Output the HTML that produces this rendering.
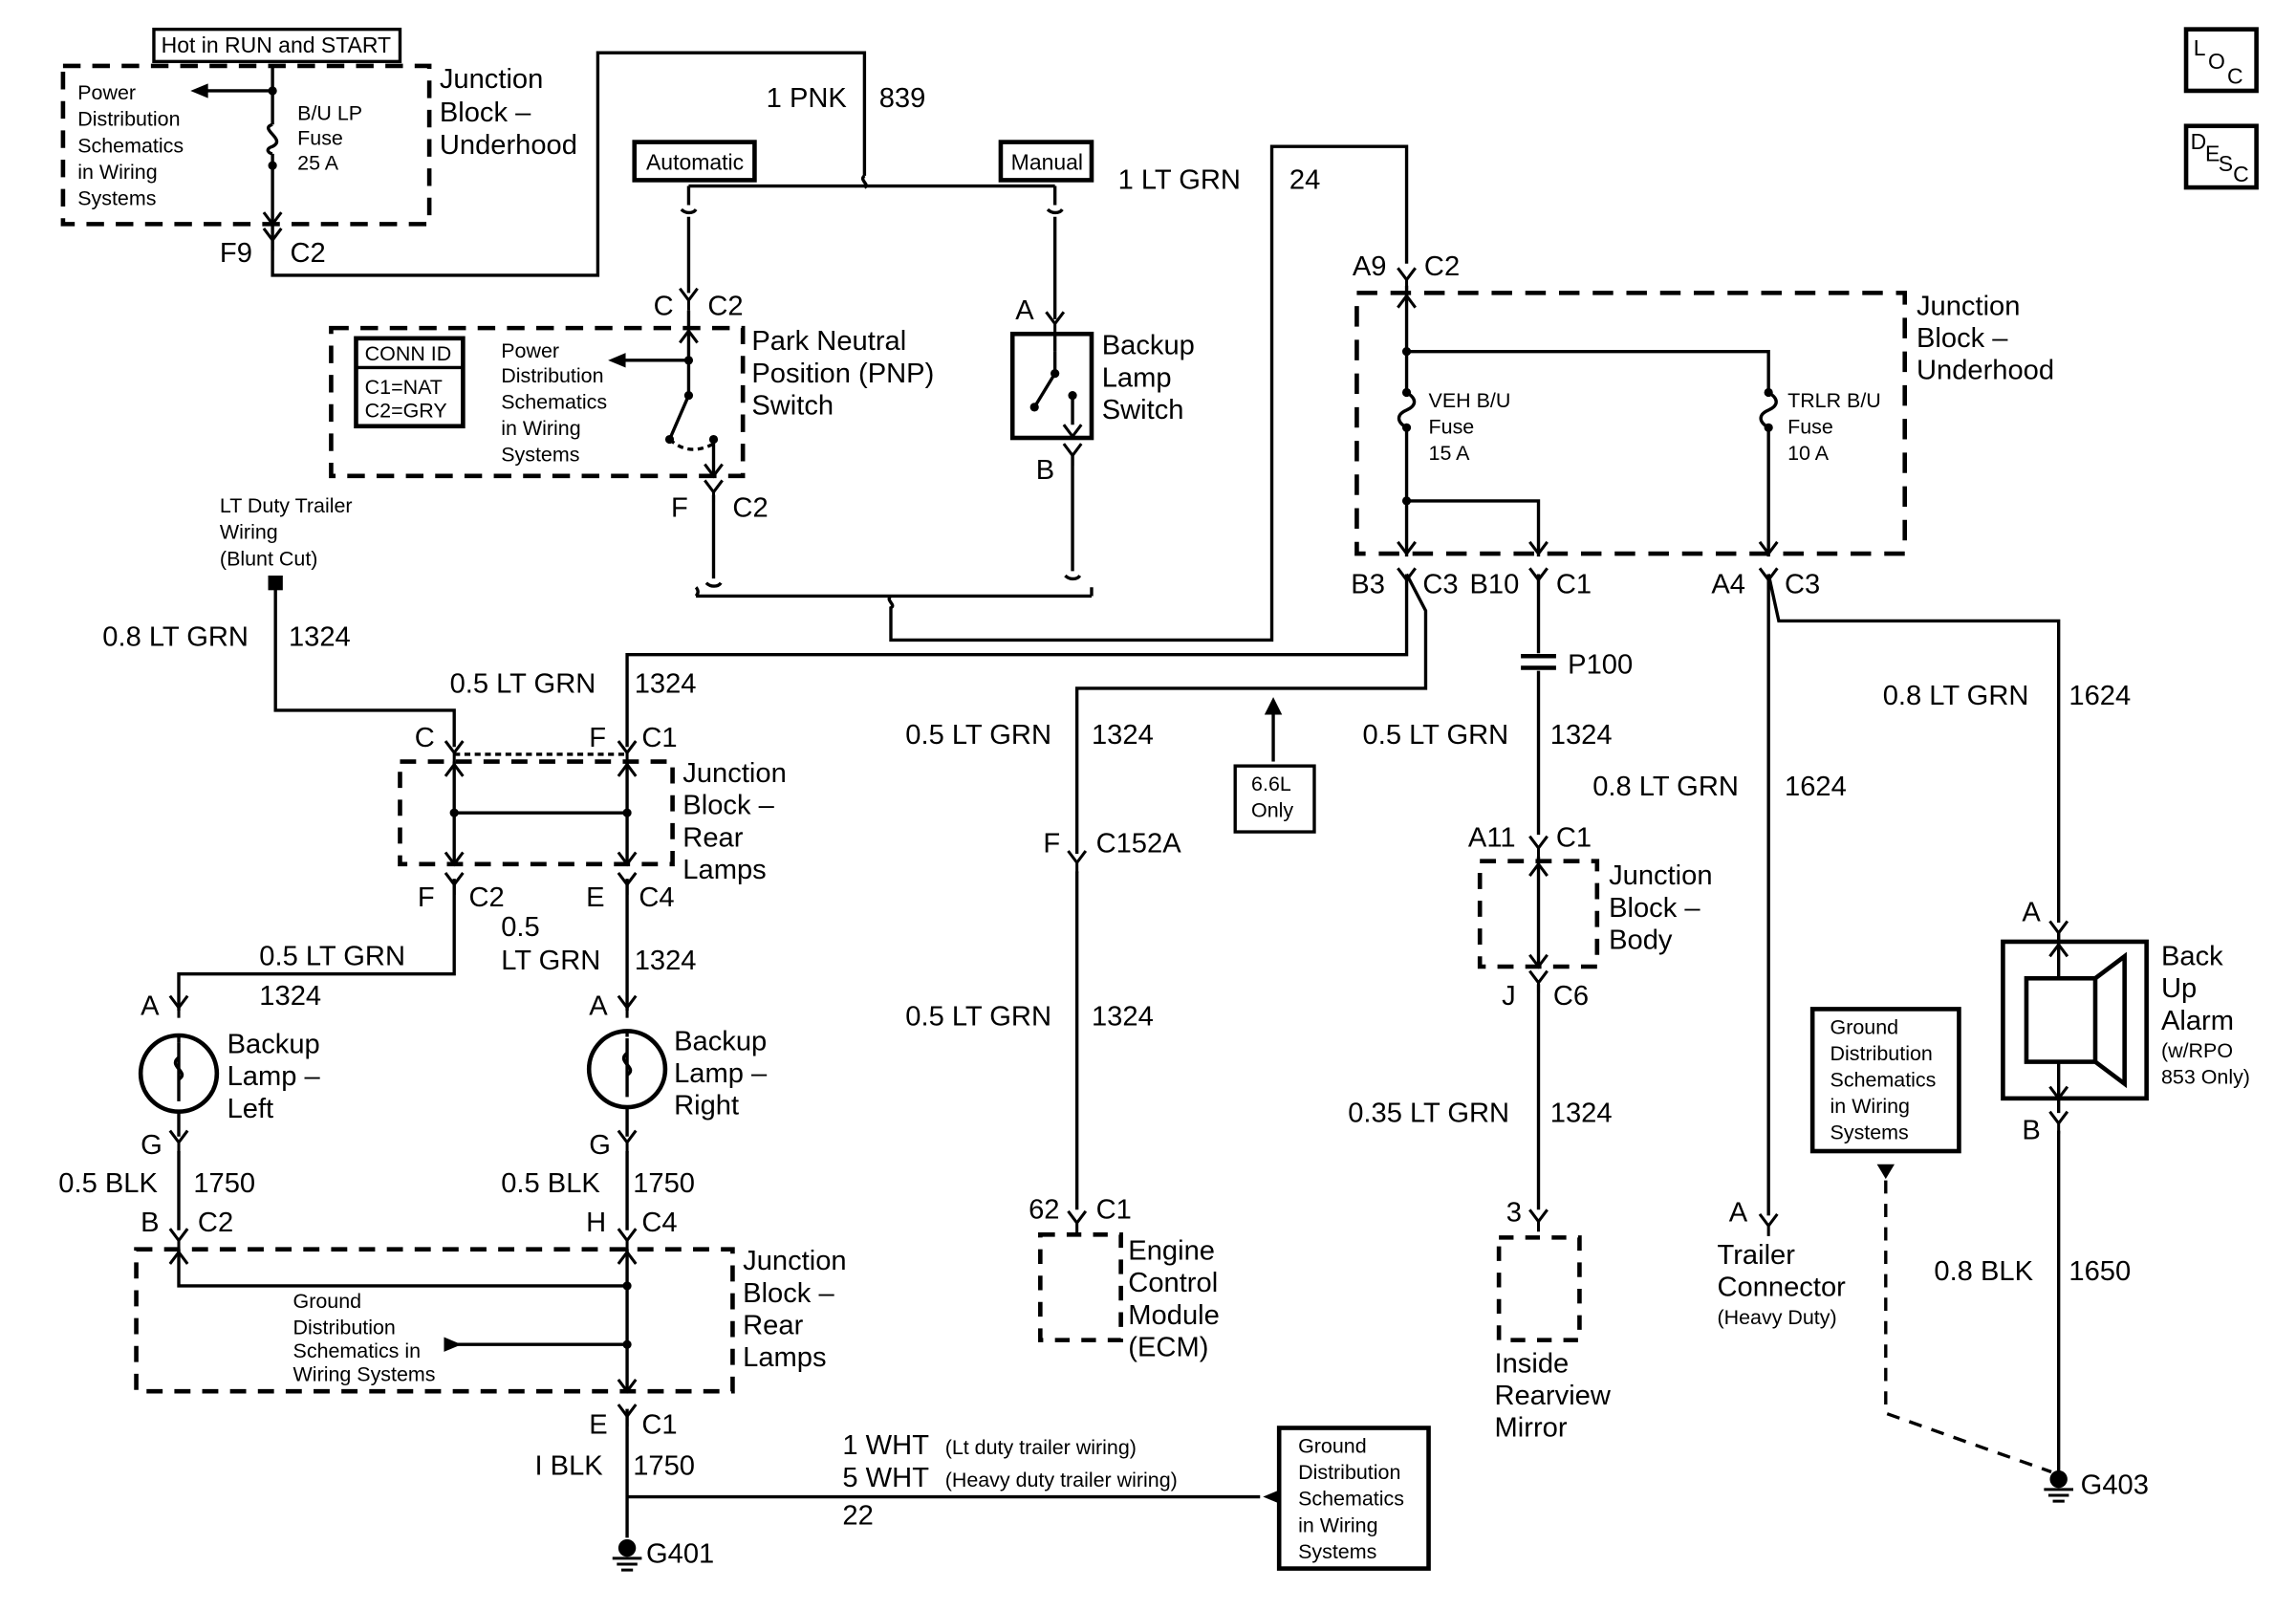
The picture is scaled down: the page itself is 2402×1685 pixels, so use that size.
<!DOCTYPE html>
<html><head><meta charset="utf-8"><style>
html,body{margin:0;padding:0;background:#fff;}
svg{display:block;}
text{font-family:"Liberation Sans",sans-serif;fill:#000;}
.l{font-size:19px;}
.s{font-size:14px;}
.m{font-size:15px;}
</style></head><body>
<svg width="2402" height="1685" viewBox="0 0 1567 1100" preserveAspectRatio="none" xmlns="http://www.w3.org/2000/svg">
<defs>
<path id="y" d="M-6,-9 L0,-1 L6,-9 M0,-1 L0,6" fill="none" stroke="#000" stroke-width="2"/>
<path id="ad" d="M-6,-8 L0,0 L6,-8" fill="none" stroke="#000" stroke-width="2"/>
<path id="au" d="M-6,8 L0,0 L6,8" fill="none" stroke="#000" stroke-width="2"/>
</defs>
<g fill="none" stroke="#000" stroke-width="2.2">
<rect x="105" y="20" width="168" height="22"/>
<rect x="43" y="45" width="250" height="108" stroke-dasharray="12,8" stroke-width="3"/>
<path d="M186,45 V85 M186,105 V167"/>
<path d="M186,85 C176,88 196,95 186,100 C180,102 184,105 186,105"/>
<path d="M186,62 H140"/>
<path d="M186,167 V188 H408 V36 H590 V120"/>
<path d="M590,120 c-4,3 4,6 0,8"/>
<path d="M470,127 H720 M470,127 V140 M720,127 V140"/>
<path d="M465,143 c3,3 8,3 10,0 M715,143 c3,3 8,3 10,0"/>
<path d="M470,148 V200 M470,212 V270 L457,300"/>
<rect x="226" y="224" width="281" height="101" stroke-dasharray="12,8" stroke-width="3"/>
<rect x="243" y="231" width="73" height="60" stroke-width="3"/>
<path d="M243,251 H316"/>
<path d="M470,246 H425"/>
<path d="M457,300 Q470,312 487,303" stroke-dasharray="4,3"/>
<path d="M487,300 V325 M487,338 V395 M482,398 c3,3 8,3 10,0"/>
<path d="M475,407 H745 M475,407 c3,-3 0,-6 0,-6 M745,407 V401"/>
<path d="M608,407 c-4,3 4,6 0,8 V437 H868 V100 H960 V180"/>
<path d="M720,148 V218 M720,228 V240"/>
<rect x="691" y="228" width="54" height="71" stroke-width="3"/>
<path d="M720,240 V255 L706,278 M732,270 V290 M732,310 V390 M727,393 c3,3 8,3 10,0"/>
<rect x="926" y="200" width="374" height="178" stroke-dasharray="14,9" stroke-width="3"/>
<path d="M960,195 V268 M960,292 V380 M960,240 H1207 V268 M1207,292 V380 M960,342 H1050 V380"/>
<path d="M960,268 c7,4 7,9 0,12 c-7,3 -7,8 0,12 M1207,268 c7,4 7,9 0,12 c-7,3 -7,8 0,12"/>
<path d="M960,392 V447 H428 V510"/>
<path d="M960,392 L973,417 V470 H735 V583"/>
<path d="M1050,392 V446 M1050,458 V570"/>
<path d="M1038,448 H1062 M1038,456 H1062" stroke-width="3"/>
<path d="M1207,392 V830 M1207,392 L1214,424 H1405 V630"/>
<rect x="843" y="523" width="54" height="45"/>
<path d="M869,520 V484"/>
<path d="M735,595 V826"/>
<rect x="710" y="843" width="55" height="72" stroke-dasharray="10,8" stroke-width="3"/>
<rect x="1010" y="588" width="80" height="72" stroke-dasharray="11,8" stroke-width="3"/>
<path d="M1050,585 V660 M1050,672 V826"/>
<rect x="1023" y="845" width="55" height="70" stroke-dasharray="10,8" stroke-width="3"/>
<rect x="1367" y="643" width="98" height="107" stroke-width="3"/>
<rect x="1383" y="668" width="47" height="57" stroke-width="3"/>
<path d="M1430,668 L1450,653 V740 L1430,725" stroke-width="3"/>
<path d="M1405,636 V668 M1405,725 V760 M1405,772 V1005"/>
<rect x="1237" y="689" width="100" height="97" stroke-width="3"/>
<path d="M1287,806 V965 L1400,1005" stroke-dasharray="9,7"/>
<rect x="1492" y="20" width="48" height="42" stroke-width="3"/>
<rect x="1492" y="86" width="48" height="42" stroke-width="3"/>
<path d="M188,400 V485 H310 V510"/>
<rect x="273" y="520" width="186" height="70" stroke-dasharray="11,8" stroke-width="3"/>
<path d="M310,515 H428" stroke-dasharray="4,3"/>
<path d="M310,520 V590 M428,520 V590 M310,555 H428"/>
<path d="M310,600 V665 H122 V690 M428,600 V690"/>
<circle cx="122" cy="733" r="26" stroke-width="3"/>
<circle cx="428" cy="730" r="26" stroke-width="3"/>
<path d="M122,712 V752 M428,709 V749"/>
<path d="M122,722 c-8,6 8,10 0,15 M428,719 c-8,6 8,10 0,15"/>
<path d="M122,707 V712 M122,759 V776 M122,786 V840 M428,704 V708 M428,756 V776 M428,786 V840"/>
<rect x="93" y="853" width="407" height="97" stroke-dasharray="11,8" stroke-width="3"/>
<path d="M122,853 V878 H428 M428,853 V950"/>
<path d="M312,918 H428"/>
<path d="M428,962 V1050 M428,1022 H860"/>
<rect x="873" y="975" width="102" height="96" stroke-width="3"/>
</g>
<g fill="#000" stroke="none">
<circle cx="186" cy="62" r="3"/><circle cx="186" cy="113" r="3"/>
<polygon points="130,62 142,57 142,67"/>
<polygon points="415,246 427,241 427,251"/>
<circle cx="470" cy="246" r="3"/><circle cx="470" cy="270" r="3"/><circle cx="457" cy="300" r="3"/><circle cx="487" cy="300" r="3"/>
<circle cx="720" cy="255" r="3"/><circle cx="706" cy="278" r="3"/><circle cx="732" cy="270" r="3"/>
<circle cx="960" cy="240" r="3"/><circle cx="960" cy="342" r="3"/><circle cx="960" cy="268" r="3"/><circle cx="960" cy="292" r="3"/><circle cx="1207" cy="268" r="3"/><circle cx="1207" cy="292" r="3"/>
<rect x="183" y="393" width="10" height="10"/>
<polygon points="869,476 863,488 875,488"/>
<polygon points="1287,805 1281,795 1293,795"/>
<polygon points="303,913 303,923 315,918"/>
<polygon points="862,1022 874,1017 874,1027"/>
<circle cx="310" cy="555" r="3"/><circle cx="428" cy="555" r="3"/>
<circle cx="428" cy="878" r="3"/><circle cx="428" cy="918" r="3"/>
<circle cx="428" cy="1057" r="6"/><circle cx="1405" cy="1010" r="6"/>
</g>
<g stroke="#000" stroke-width="2">
<path d="M418,1064 H438 M421,1068 H435 M424,1072 H432 M1395,1017 H1415 M1398,1021 H1412 M1401,1025 H1409"/>
</g>
<use href="#y" x="186" y="165"/><use href="#y" x="470" y="206"/><use href="#y" x="487" y="337"/>
<use href="#y" x="720" y="222"/><use href="#y" x="732" y="312"/>
<use href="#y" x="960" y="192"/><use href="#y" x="960" y="397"/><use href="#y" x="1050" y="397"/><use href="#y" x="1207" y="397"/>
<use href="#y" x="310" y="515"/><use href="#y" x="428" y="515"/>
<use href="#y" x="310" y="605"/><use href="#y" x="428" y="605"/>
<use href="#y" x="122" y="689"/><use href="#y" x="428" y="689"/>
<use href="#y" x="122" y="781"/><use href="#y" x="428" y="781"/>
<use href="#y" x="122" y="848"/><use href="#y" x="428" y="848"/>
<use href="#y" x="428" y="968"/><use href="#y" x="735" y="590"/><use href="#y" x="735" y="836"/>
<use href="#y" x="1050" y="580"/><use href="#y" x="1050" y="672"/><use href="#y" x="1050" y="835"/>
<use href="#y" x="1207" y="838"/><use href="#y" x="1405" y="638"/><use href="#y" x="1405" y="768"/>
<use href="#ad" x="186" y="153"/><use href="#au" x="470" y="226"/><use href="#ad" x="487" y="325"/><use href="#ad" x="732" y="298"/>
<use href="#au" x="960" y="202"/><use href="#ad" x="960" y="378"/><use href="#ad" x="1050" y="378"/><use href="#ad" x="1207" y="378"/>
<use href="#au" x="310" y="522"/><use href="#au" x="428" y="522"/><use href="#ad" x="310" y="590"/><use href="#ad" x="428" y="590"/>
<use href="#au" x="122" y="855"/><use href="#au" x="428" y="855"/><use href="#ad" x="428" y="950"/>
<use href="#au" x="1050" y="590"/><use href="#ad" x="1050" y="660"/><use href="#au" x="1405" y="645"/><use href="#ad" x="1405" y="750"/>
<text class="m" x="110" y="36">Hot in RUN and START</text>
<g class="s"><text x="53" y="68">Power</text><text x="53" y="86">Distribution</text><text x="53" y="104">Schematics</text><text x="53" y="122">in Wiring</text><text x="53" y="140">Systems</text></g>
<g class="s"><text x="203" y="82">B/U LP</text><text x="203" y="99">Fuse</text><text x="203" y="116">25 A</text></g>
<g class="l"><text x="300" y="60">Junction</text><text x="300" y="83">Block –</text><text x="300" y="105">Underhood</text></g>
<text class="l" x="150" y="179">F9</text><text class="l" x="198" y="179">C2</text>
<text class="l" x="523" y="73">1 PNK</text><text class="l" x="600" y="73">839</text>
<rect x="433" y="97" width="82" height="26" fill="none" stroke="#000" stroke-width="3"/><text class="m" x="441" y="116">Automatic</text>
<rect x="683" y="97" width="62" height="26" fill="none" stroke="#000" stroke-width="3"/><text class="m" x="690" y="116">Manual</text>
<text class="l" x="763" y="129">1 LT GRN</text><text class="l" x="880" y="129">24</text>
<text class="l" x="446" y="215">C</text><text class="l" x="483" y="215">C2</text>
<g class="s"><text x="249" y="246">CONN ID</text><text x="249" y="269">C1=NAT</text><text x="249" y="285">C2=GRY</text></g>
<g class="s"><text x="342" y="244">Power</text><text x="342" y="261">Distribution</text><text x="342" y="279">Schematics</text><text x="342" y="297">in Wiring</text><text x="342" y="315">Systems</text></g>
<g class="l"><text x="513" y="239">Park Neutral</text><text x="513" y="261">Position (PNP)</text><text x="513" y="283">Switch</text></g>
<text class="l" x="458" y="353">F</text><text class="l" x="500" y="353">C2</text>
<text class="l" x="693" y="218">A</text><text class="l" x="707" y="327">B</text>
<g class="l"><text x="752" y="242">Backup</text><text x="752" y="264">Lamp</text><text x="752" y="286">Switch</text></g>
<text class="l" x="923" y="188">A9</text><text class="l" x="972" y="188">C2</text>
<g class="s"><text x="975" y="278">VEH B/U</text><text x="975" y="296">Fuse</text><text x="975" y="314">15 A</text><text x="1220" y="278">TRLR B/U</text><text x="1220" y="296">Fuse</text><text x="1220" y="314">10 A</text></g>
<g class="l"><text x="1308" y="215">Junction</text><text x="1308" y="237">Block –</text><text x="1308" y="259">Underhood</text></g>
<text class="l" x="922" y="405">B3</text><text class="l" x="971" y="405">C3</text><text class="l" x="1003" y="405">B10</text><text class="l" x="1062" y="405">C1</text><text class="l" x="1168" y="405">A4</text><text class="l" x="1218" y="405">C3</text>
<text class="l" x="1070" y="460">P100</text>
<g class="s"><text x="150" y="350">LT Duty Trailer</text><text x="150" y="368">Wiring</text><text x="150" y="386">(Blunt Cut)</text></g>
<text class="l" x="70" y="441">0.8 LT GRN</text><text class="l" x="197" y="441">1324</text>
<text class="l" x="307" y="473">0.5 LT GRN</text><text class="l" x="433" y="473">1324</text>
<text class="l" x="618" y="508">0.5 LT GRN</text><text class="l" x="745" y="508">1324</text>
<g class="s"><text x="854" y="540">6.6L</text><text x="854" y="558">Only</text></g>
<text class="l" x="930" y="508">0.5 LT GRN</text><text class="l" x="1058" y="508">1324</text>
<text class="l" x="1285" y="481">0.8 LT GRN</text><text class="l" x="1412" y="481">1624</text>
<text class="l" x="1087" y="543">0.8 LT GRN</text><text class="l" x="1218" y="543">1624</text>
<text class="l" x="283" y="510">C</text><text class="l" x="402" y="510">F</text><text class="l" x="438" y="510">C1</text>
<g class="l"><text x="466" y="534">Junction</text><text x="466" y="556">Block –</text><text x="466" y="578">Rear</text><text x="466" y="600">Lamps</text></g>
<text class="l" x="285" y="619">F</text><text class="l" x="320" y="619">C2</text><text class="l" x="400" y="619">E</text><text class="l" x="436" y="619">C4</text>
<text class="l" x="342" y="639">0.5</text><text class="l" x="342" y="662">LT GRN</text><text class="l" x="433" y="662">1324</text>
<text class="l" x="177" y="659">0.5 LT GRN</text><text class="l" x="177" y="686">1324</text>
<text class="l" x="712" y="582">F</text><text class="l" x="748" y="582">C152A</text>
<text class="l" x="618" y="700">0.5 LT GRN</text><text class="l" x="745" y="700">1324</text>
<text class="l" x="1002" y="578">A11</text><text class="l" x="1062" y="578">C1</text>
<g class="l"><text x="1098" y="604">Junction</text><text x="1098" y="626">Block –</text><text x="1098" y="648">Body</text></g>
<text class="l" x="1025" y="686">J</text><text class="l" x="1060" y="686">C6</text>
<text class="l" x="920" y="766">0.35 LT GRN</text><text class="l" x="1058" y="766">1324</text>
<text class="l" x="1380" y="629">A</text>
<g class="l"><text x="1475" y="659">Back</text><text x="1475" y="681">Up</text><text x="1475" y="703">Alarm</text></g>
<g class="s"><text x="1475" y="722">(w/RPO</text><text x="1475" y="740">853 Only)</text></g>
<g class="s"><text x="1249" y="706">Ground</text><text x="1249" y="724">Distribution</text><text x="1249" y="742">Schematics</text><text x="1249" y="760">in Wiring</text><text x="1249" y="778">Systems</text></g>
<text class="l" x="1380" y="778">B</text>
<text class="l" x="96" y="693">A</text><text class="l" x="402" y="693">A</text>
<g class="l"><text x="155" y="719">Backup</text><text x="155" y="741">Lamp –</text><text x="155" y="763">Left</text><text x="460" y="717">Backup</text><text x="460" y="739">Lamp –</text><text x="460" y="761">Right</text></g>
<text class="l" x="96" y="788">G</text><text class="l" x="402" y="788">G</text>
<text class="l" x="40" y="814">0.5 BLK</text><text class="l" x="132" y="814">1750</text><text class="l" x="342" y="814">0.5 BLK</text><text class="l" x="432" y="814">1750</text>
<text class="l" x="96" y="841">B</text><text class="l" x="135" y="841">C2</text><text class="l" x="400" y="841">H</text><text class="l" x="438" y="841">C4</text>
<g class="s"><text x="200" y="893">Ground</text><text x="200" y="911">Distribution</text><text x="200" y="927">Schematics in</text><text x="200" y="943">Wiring Systems</text></g>
<g class="l"><text x="507" y="867">Junction</text><text x="507" y="889">Block –</text><text x="507" y="911">Rear</text><text x="507" y="933">Lamps</text></g>
<text class="l" x="702" y="832">62</text><text class="l" x="748" y="832">C1</text>
<g class="l"><text x="770" y="860">Engine</text><text x="770" y="882">Control</text><text x="770" y="904">Module</text><text x="770" y="926">(ECM)</text></g>
<text class="l" x="1028" y="834">3</text>
<g class="l"><text x="1020" y="937">Inside</text><text x="1020" y="959">Rearview</text><text x="1020" y="981">Mirror</text></g>
<text class="l" x="1180" y="834">A</text>
<g class="l"><text x="1172" y="863">Trailer</text><text x="1172" y="885">Connector</text></g><text class="s" x="1172" y="904">(Heavy Duty)</text>
<text class="l" x="1320" y="874">0.8 BLK</text><text class="l" x="1412" y="874">1650</text>
<text class="l" x="1420" y="1020">G403</text>
<text class="l" x="402" y="979">E</text><text class="l" x="438" y="979">C1</text>
<text class="l" x="365" y="1007">I BLK</text><text class="l" x="432" y="1007">1750</text>
<text class="l" x="441" y="1067">G401</text>
<text class="l" x="575" y="993">1 WHT</text><text class="s" x="645" y="993">(Lt duty trailer wiring)</text>
<text class="l" x="575" y="1015">5 WHT</text><text class="s" x="645" y="1015">(Heavy duty trailer wiring)</text>
<text class="l" x="575" y="1041">22</text>
<g class="s"><text x="886" y="992">Ground</text><text x="886" y="1010">Distribution</text><text x="886" y="1028">Schematics</text><text x="886" y="1046">in Wiring</text><text x="886" y="1064">Systems</text></g>
<g class="m"><text x="1497" y="38">L</text><text x="1507" y="47">O</text><text x="1520" y="57">C</text>
<text x="1495" y="102">D</text><text x="1505" y="110">E</text><text x="1514" y="117">S</text><text x="1524" y="124">C</text></g>
</svg>
</body></html>
